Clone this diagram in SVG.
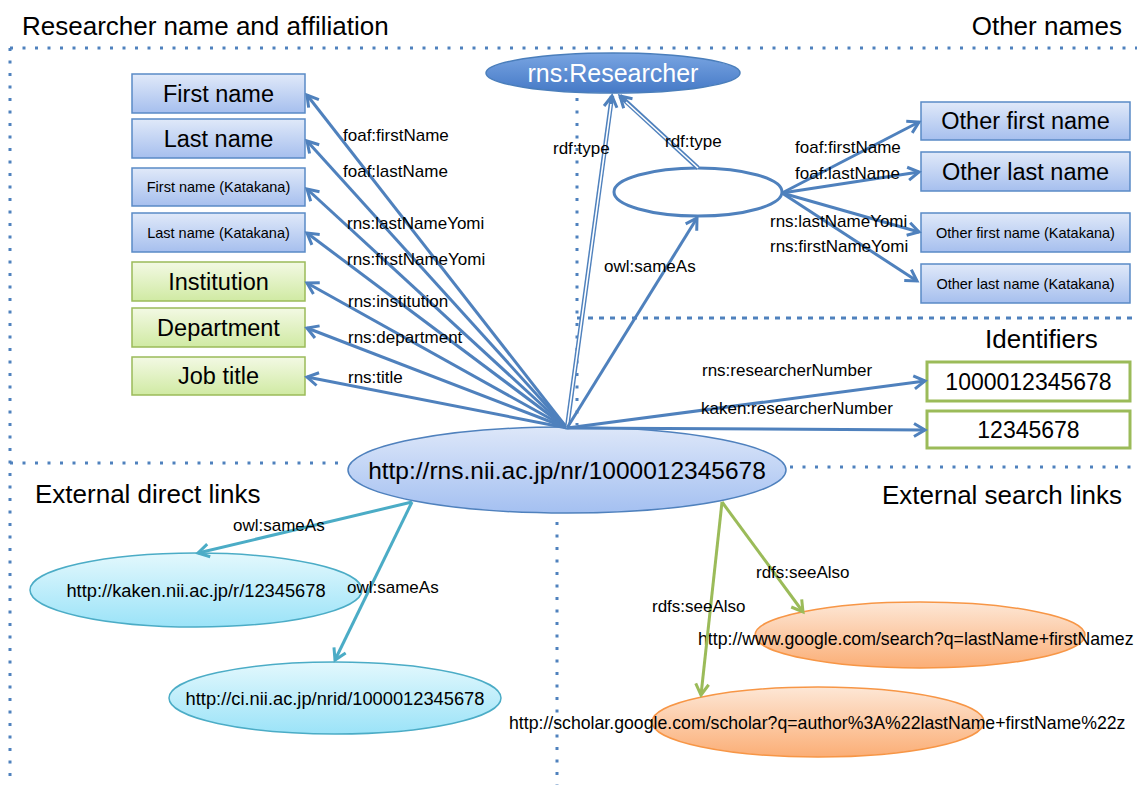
<svg xmlns="http://www.w3.org/2000/svg" width="1137" height="785" viewBox="0 0 1137 785">
<style>
text{font-family:"Liberation Sans",Arial,sans-serif;fill:#000}
.title{font-size:26px}
.big{font-size:23.5px}
.small{font-size:14.5px}
.lbl{font-size:17px}
.url{font-size:18.3px}
.sep{fill:none;stroke:#4f81bd;stroke-width:3;stroke-dasharray:3 9.5}
.sep2{fill:none;stroke:#4f81bd;stroke-width:3;stroke-dasharray:5 6}
.bbox{fill:url(#gBlue);stroke:#5a8ac6;stroke-width:1.5}
.gbox{fill:url(#gGreen);stroke:#9bbb59;stroke-width:1.5}
.idbox{fill:#fff;stroke:#9bbb59;stroke-width:3}
.eb{fill:none;stroke:#4f81bd;stroke-width:3;marker-end:url(#aBlue)}
.et{fill:none;stroke:#4bacc6;stroke-width:3;marker-end:url(#aTeal)}
.eg{fill:none;stroke:#9bbb59;stroke-width:3;marker-end:url(#aGreen)}
.dbl{fill:none;stroke:#4f81bd;stroke-width:4.5;marker-end:url(#aBlue)}
.dblin{fill:none;stroke:#fff;stroke-width:1.6}
</style>
<defs>
<linearGradient id="gBlue" x1="0" y1="0" x2="0" y2="1"><stop offset="0" stop-color="#e0e9f9"/><stop offset="1" stop-color="#a6bfee"/></linearGradient>
<linearGradient id="gGreen" x1="0" y1="0" x2="0" y2="1"><stop offset="0" stop-color="#f3f9e4"/><stop offset="1" stop-color="#d0eaa3"/></linearGradient>
<linearGradient id="gCenter" x1="0" y1="0" x2="0" y2="1"><stop offset="0" stop-color="#dde7f9"/><stop offset="1" stop-color="#a4c0f1"/></linearGradient>
<linearGradient id="gRes" x1="0" y1="0" x2="0" y2="1"><stop offset="0" stop-color="#79a5e2"/><stop offset="1" stop-color="#4579c6"/></linearGradient>
<linearGradient id="gTeal" x1="0" y1="0" x2="0" y2="1"><stop offset="0" stop-color="#e3f8fd"/><stop offset="1" stop-color="#9be3f8"/></linearGradient>
<linearGradient id="gOrange" x1="0" y1="0" x2="0" y2="1"><stop offset="0" stop-color="#fde7d6"/><stop offset="1" stop-color="#fbae76"/></linearGradient>
<marker id="aBlue" markerUnits="userSpaceOnUse" markerWidth="20" markerHeight="20" viewBox="-14 -10 18 20" refX="0" refY="0" orient="auto" overflow="visible"><path d="M-11,-6.5 L0,0 L-11,6.5" fill="none" stroke="#4f81bd" stroke-width="3"/></marker>
<marker id="aTeal" markerUnits="userSpaceOnUse" markerWidth="20" markerHeight="20" viewBox="-14 -10 18 20" refX="0" refY="0" orient="auto" overflow="visible"><path d="M-11,-6.5 L0,0 L-11,6.5" fill="none" stroke="#4bacc6" stroke-width="3"/></marker>
<marker id="aGreen" markerUnits="userSpaceOnUse" markerWidth="20" markerHeight="20" viewBox="-14 -10 18 20" refX="0" refY="0" orient="auto" overflow="visible"><path d="M-11,-6.5 L0,0 L-11,6.5" fill="none" stroke="#9bbb59" stroke-width="3"/></marker>
</defs>
<rect width="1137" height="785" fill="#fff"/>

<g id="separators">
<path class="sep" d="M10,48 H1137"/>
<path class="sep" d="M10,48 V785"/>
<path class="sep" d="M10,463 H346"/>
<path class="sep" d="M577,98 V425"/>
<path class="sep2" d="M577,318 H1137"/>
<path class="sep" d="M790,467 H1137"/>
<path class="sep" d="M557,522 V785"/>
</g>

<g id="titles">
<text class="title" x="22" y="35">Researcher name and affiliation</text>
<text class="title" x="1122" y="35" text-anchor="end">Other names</text>
<text class="title" x="985" y="348">Identifiers</text>
<text class="title" x="35" y="503">External direct links</text>
<text class="title" x="882" y="504">External search links</text>
</g>

<g id="n-firstname"><rect class="bbox" x="132" y="74" width="173" height="39"/><text class="big" x="218.5" y="102" text-anchor="middle">First name</text></g>
<g id="n-lastname"><rect class="bbox" x="132" y="119" width="173" height="39"/><text class="big" x="218.5" y="147" text-anchor="middle">Last name</text></g>
<g id="n-firstname-kana"><rect class="bbox" x="132" y="168" width="173" height="38"/><text class="small" x="218.5" y="192" text-anchor="middle">First name (Katakana)</text></g>
<g id="n-lastname-kana"><rect class="bbox" x="132" y="213" width="173" height="39"/><text class="small" x="218.5" y="238" text-anchor="middle">Last name (Katakana)</text></g>
<g id="n-institution"><rect class="gbox" x="132" y="262" width="173" height="39"/><text class="big" x="218.5" y="290" text-anchor="middle">Institution</text></g>
<g id="n-department"><rect class="gbox" x="132" y="308" width="173" height="39"/><text class="big" x="218.5" y="336" text-anchor="middle">Department</text></g>
<g id="n-jobtitle"><rect class="gbox" x="132" y="357" width="173" height="38"/><text class="big" x="218.5" y="384" text-anchor="middle">Job title</text></g>

<g id="n-researcher"><ellipse cx="613" cy="73" rx="127" ry="20" fill="url(#gRes)" stroke="#4a7ebb" stroke-width="1.5"/><text x="613" y="82" font-size="25" text-anchor="middle" style="fill:#fff">rns:Researcher</text></g>
<g id="n-blank"><ellipse cx="698" cy="192" rx="84" ry="24" fill="#fff" stroke="#4f81bd" stroke-width="3"/></g>

<g id="n-other-first"><rect class="bbox" x="921" y="102" width="209" height="38"/><text class="big" x="1025.5" y="129" text-anchor="middle">Other first name</text></g>
<g id="n-other-last"><rect class="bbox" x="921" y="152" width="209" height="39"/><text class="big" x="1025.5" y="180" text-anchor="middle">Other last name</text></g>
<g id="n-other-first-kana"><rect class="bbox" x="921" y="213" width="209" height="39"/><text class="small" x="1025.5" y="238" text-anchor="middle">Other first name (Katakana)</text></g>
<g id="n-other-last-kana"><rect class="bbox" x="921" y="264" width="209" height="39"/><text class="small" x="1025.5" y="289" text-anchor="middle">Other last name (Katakana)</text></g>

<g id="n-id1"><rect class="idbox" x="927" y="362" width="203" height="39"/><text x="1028.5" y="390" font-size="23" text-anchor="middle">1000012345678</text></g>
<g id="n-id2"><rect class="idbox" x="927" y="411" width="203" height="37"/><text x="1028.5" y="438" font-size="23" text-anchor="middle">12345678</text></g>

<g id="n-center"><ellipse cx="567" cy="470" rx="219" ry="43" fill="url(#gCenter)" stroke="#4f81bd" stroke-width="1.5"/><text x="567" y="479" font-size="24.5" text-anchor="middle">http://rns.nii.ac.jp/nr/1000012345678</text></g>

<g id="n-kaken"><ellipse cx="196" cy="590" rx="166" ry="37" fill="url(#gTeal)" stroke="#4bacc6" stroke-width="1.5"/><text class="url" x="196" y="597" text-anchor="middle">http://kaken.nii.ac.jp/r/12345678</text></g>
<g id="n-ci"><ellipse cx="335" cy="698" rx="166" ry="36" fill="url(#gTeal)" stroke="#4bacc6" stroke-width="1.5"/><text class="url" x="335" y="705" text-anchor="middle">http://ci.nii.ac.jp/nrid/1000012345678</text></g>

<g id="n-google"><ellipse cx="920" cy="635" rx="165" ry="33" fill="url(#gOrange)" stroke="#f79646" stroke-width="1.5"/><text x="698" y="645" font-size="17.7">http://www.google.com/search?q=lastName+firstNamez</text></g>
<g id="n-scholar"><ellipse cx="818" cy="722" rx="166" ry="35" fill="url(#gOrange)" stroke="#f79646" stroke-width="1.5"/><text x="509" y="729" font-size="17.7">http://scholar.google.com/scholar?q=author%3A%22lastName+firstName%22z</text></g>

<g id="connectors">
<path class="eb" d="M567,428 L307,95"/>
<path class="eb" d="M567,428 L307,141"/>
<path class="eb" d="M567,428 L307,189"/>
<path class="eb" d="M567,428 L307,233"/>
<path class="eb" d="M567,428 L307,283"/>
<path class="eb" d="M567,428 L307,328"/>
<path class="eb" d="M567,428 L307,377"/>
<path class="dbl" d="M567,428 L612,96"/>
<path class="dblin" d="M567,428 L611,104"/>
<path class="dbl" d="M698,168 L620,96"/>
<path class="dblin" d="M698,168 L626,102"/>
<path class="eb" d="M567,428 L697,218"/>
<path class="eb" d="M782,193 L919,122"/>
<path class="eb" d="M782,193 L919,172"/>
<path class="eb" d="M782,193 L919,232"/>
<path class="eb" d="M782,193 L917,281"/>
<path class="eb" d="M567,428 L925,381"/>
<path class="eb" d="M567,428 L925,430"/>
<path class="et" d="M412,502 L198,553"/>
<path class="et" d="M412,502 L335,660"/>
<path class="eg" d="M722,502 L803,612"/>
<path class="eg" d="M722,502 L701,695"/>
<g id="edge-labels">
<text class="lbl" x="343" y="141">foaf:firstName</text>
<text class="lbl" x="343" y="177">foaf:lastName</text>
<text class="lbl" x="347" y="229">rns:lastNameYomi</text>
<text class="lbl" x="347" y="265">rns:firstNameYomi</text>
<text class="lbl" x="348" y="307">rns:institution</text>
<text class="lbl" x="348" y="343">rns:department</text>
<text class="lbl" x="348" y="383">rns:title</text>
<text class="lbl" x="553" y="154">rdf:type</text>
<text class="lbl" x="665" y="147">rdf:type</text>
<text class="lbl" x="604" y="272">owl:sameAs</text>
<text class="lbl" x="795" y="153">foaf:firstName</text>
<text class="lbl" x="795" y="179">foaf:lastName</text>
<text class="lbl" x="770" y="227">rns:lastNameYomi</text>
<text class="lbl" x="770" y="252">rns:firstNameYomi</text>
<text class="lbl" x="702" y="376">rns:researcherNumber</text>
<text class="lbl" x="701" y="414">kaken:researcherNumber</text>
<text class="lbl" x="233" y="531">owl:sameAs</text>
<text class="lbl" x="347" y="593">owl:sameAs</text>
<text class="lbl" x="756" y="578">rdfs:seeAlso</text>
<text class="lbl" x="652" y="612">rdfs:seeAlso</text>
</g>
</g>
</svg>
